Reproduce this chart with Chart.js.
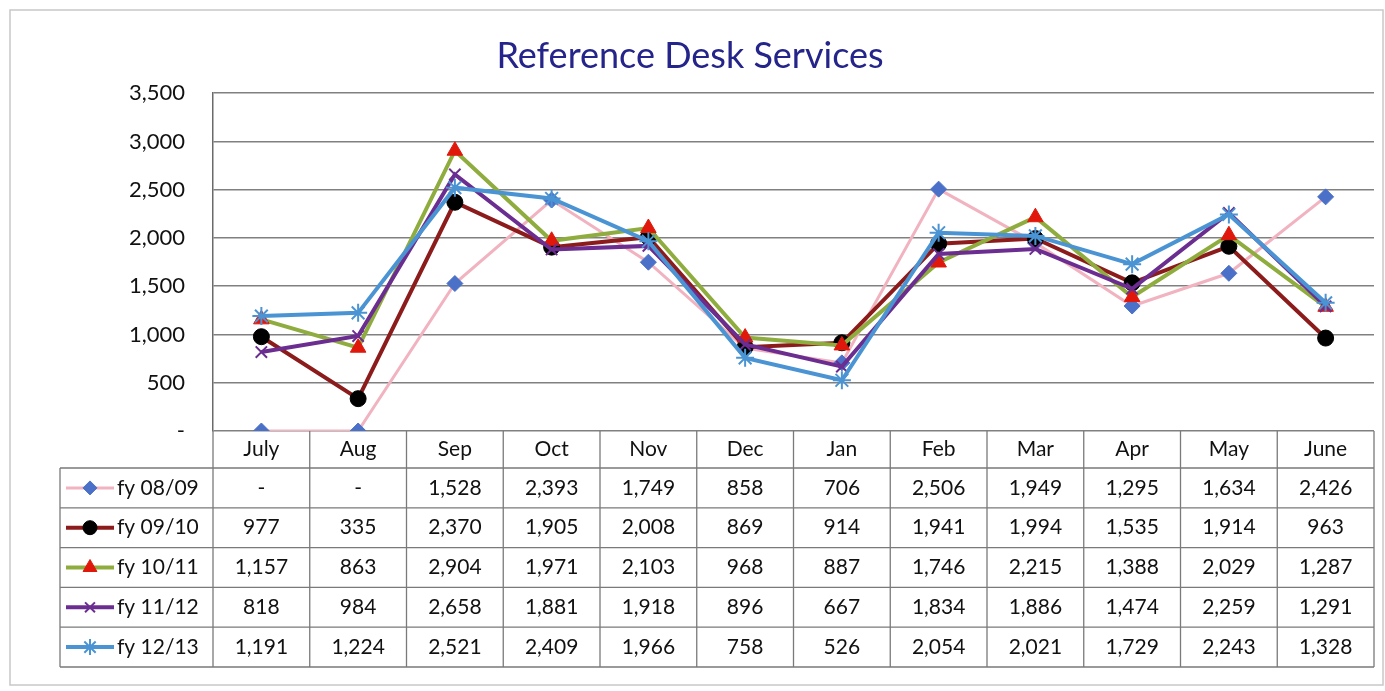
<!DOCTYPE html>
<html>
<head>
<meta charset="utf-8">
<script src="https://cdn.jsdelivr.net/npm/chart.js@4"></script>
<style>
  body { margin: 0; background: #fff; }
  #wrap { width: 1385px; height: 691px; position: relative; }
</style>
</head>
<body>
<div id="wrap"><canvas id="lineChart"></canvas></div>
<script>
const months = ['July', 'Aug', 'Sep', 'Oct', 'Nov', 'Dec', 'Jan', 'Feb', 'Mar', 'Apr', 'May', 'June'];
const seriesNames = ['fy 08/09', 'fy 09/10', 'fy 10/11', 'fy 11/12', 'fy 12/13'];
const fy0809 = [0, 0, 1528, 2393, 1749, 858, 706, 2506, 1949, 1295, 1634, 2426];
const fy0910 = [977, 335, 2370, 1905, 2008, 869, 914, 1941, 1994, 1535, 1914, 963];
const fy1011 = [1157, 863, 2904, 1971, 2103, 968, 887, 1746, 2215, 1388, 2029, 1287];
const fy1112 = [818, 984, 2658, 1881, 1918, 896, 667, 1834, 1886, 1474, 2259, 1291];
const fy1213 = [1191, 1224, 2521, 2409, 1966, 758, 526, 2054, 2021, 1729, 2243, 1328];
const yTicks = [0, 500, 1000, 1500, 2000, 2500, 3000, 3500];

const FONT = 'Lato, "Open Sans", sans-serif';
const fmt = v => v === 0 ? '-' : v.toLocaleString('en-US');

// estilos de cada serie
const styles = [
  { line: '#f2b3c0', point: '#4a70c8', pointStyle: 'rectRot', radius: 8, width: 3 },
  { line: '#8c1c1c', point: '#000000', pointStyle: 'circle', radius: 8, width: 4 },
  { line: '#8fac3e', point: '#e0180c', pointStyle: 'triangle', radius: 9, width: 4 },
  { line: '#6b2d90', point: '#6b2d90', pointStyle: 'crossRot', radius: 8, width: 4 },
  { line: '#4b94d4', point: '#4b94d4', pointStyle: 'star', radius: 9, width: 4 }
];
const allData = [fy0809, fy0910, fy1011, fy1112, fy1213];

const datasets = allData.map((d, i) => ({
  label: seriesNames[i],
  data: d,
  borderColor: styles[i].line,
  borderWidth: styles[i].width,
  pointStyle: styles[i].pointStyle,
  pointRadius: styles[i].radius,
  pointBackgroundColor: styles[i].point,
  pointBorderColor: styles[i].point,
  pointBorderWidth: styles[i].pointStyle.startsWith('cross') || styles[i].pointStyle === 'star' ? 2 : 1,
  fill: false,
  tension: 0,
  order: allData.length - i
}));

const TABLE_LEFT = 60;
const HEADER_H = 37;
const ROW_H = 39.8;

// Tabla de datos debajo del gráfico
const dataTable = {
  id: 'dataTable',
  afterDraw(chart) {
    const ctx = chart.ctx;
    const area = chart.chartArea;
    const x = chart.scales.x;
    const colW = (area.right - area.left) / months.length;
    const headBottom = area.bottom + HEADER_H;
    const tableBottom = headBottom + ROW_H * seriesNames.length;
    ctx.save();

    // marco exterior
    ctx.strokeStyle = '#c8c8c8';
    ctx.lineWidth = 1.5;
    ctx.strokeRect(10, 10, chart.width - 12, chart.height - 16);

    // líneas de la tabla
    ctx.strokeStyle = '#7a7a7a';
    ctx.lineWidth = 1.3;
    ctx.beginPath();
    for (let i = 0; i <= months.length; i++) {
      const cx = area.left + i * colW;
      ctx.moveTo(cx, area.bottom);
      ctx.lineTo(cx, tableBottom);
    }
    ctx.moveTo(TABLE_LEFT, headBottom);
    ctx.lineTo(TABLE_LEFT, tableBottom);
    for (let r = 0; r <= seriesNames.length; r++) {
      const ry = headBottom + r * ROW_H;
      ctx.moveTo(TABLE_LEFT, ry);
      ctx.lineTo(area.right, ry);
    }
    ctx.stroke();

    // valores y leyenda
    ctx.font = '21px ' + FONT;
    ctx.textBaseline = 'middle';
    allData.forEach((d, r) => {
      const cy = headBottom + r * ROW_H + ROW_H / 2;
      ctx.textAlign = 'center';
      ctx.fillStyle = '#111';
      d.forEach((v, i) => {
        ctx.fillText(fmt(v), x.getPixelForValue(i), cy);
      });
      const s = styles[r];
      ctx.strokeStyle = s.line;
      ctx.lineWidth = s.width;
      ctx.beginPath();
      ctx.moveTo(66, cy);
      ctx.lineTo(114, cy);
      ctx.stroke();
      ctx.fillStyle = s.point;
      ctx.strokeStyle = s.point;
      ctx.lineWidth = datasets[r].pointBorderWidth;
      Chart.helpers.drawPoint(ctx, {
        pointStyle: s.pointStyle, radius: s.radius - 1, rotation: 0,
        borderWidth: datasets[r].pointBorderWidth
      }, 90, cy);
      ctx.fillStyle = '#111';
      ctx.textAlign = 'left';
      ctx.fillText(seriesNames[r], 117, cy);
    });
    ctx.restore();
  }
};

const ctxLine = document.getElementById('lineChart').getContext('2d');
const lineChart = new Chart(ctxLine, {
  type: 'line',
  data: { labels: months, datasets: datasets },
  options: {
    responsive: true,
    maintainAspectRatio: false,
    animation: false,
    layout: { padding: { left: 0, right: 5, top: 0, bottom: 223 } },
    plugins: {
      legend: { display: false },
      tooltip: { enabled: false },
      title: {
        display: true,
        text: 'Reference Desk Services',
        color: '#24248a',
        font: { family: FONT, size: 36, weight: 'normal' },
        padding: { top: 35, bottom: 15 }
      }
    },
    scales: {
      x: {
        offset: true,
        grid: { display: false, drawTicks: false },
        border: { display: false },
        ticks: { color: '#111', font: { family: FONT, size: 21 }, padding: 6, maxRotation: 0 },
        afterFit: s => { s.height = HEADER_H; }
      },
      y: {
        min: 0,
        max: 3500,
        afterBuildTicks: s => { s.ticks = yTicks.map(v => ({ value: v })); },
        grid: { color: '#808080', lineWidth: 1.5, drawTicks: false },
        border: { display: true, color: '#6a6a6a', width: 1.5 },
        ticks: {
          color: '#111',
          font: { family: FONT, size: 22 },
          padding: 28,
          callback: v => fmt(v)
        },
        afterFit: s => { s.width = 213; }
      }
    }
  },
  plugins: [dataTable]
});
</script>
</body>
</html>
